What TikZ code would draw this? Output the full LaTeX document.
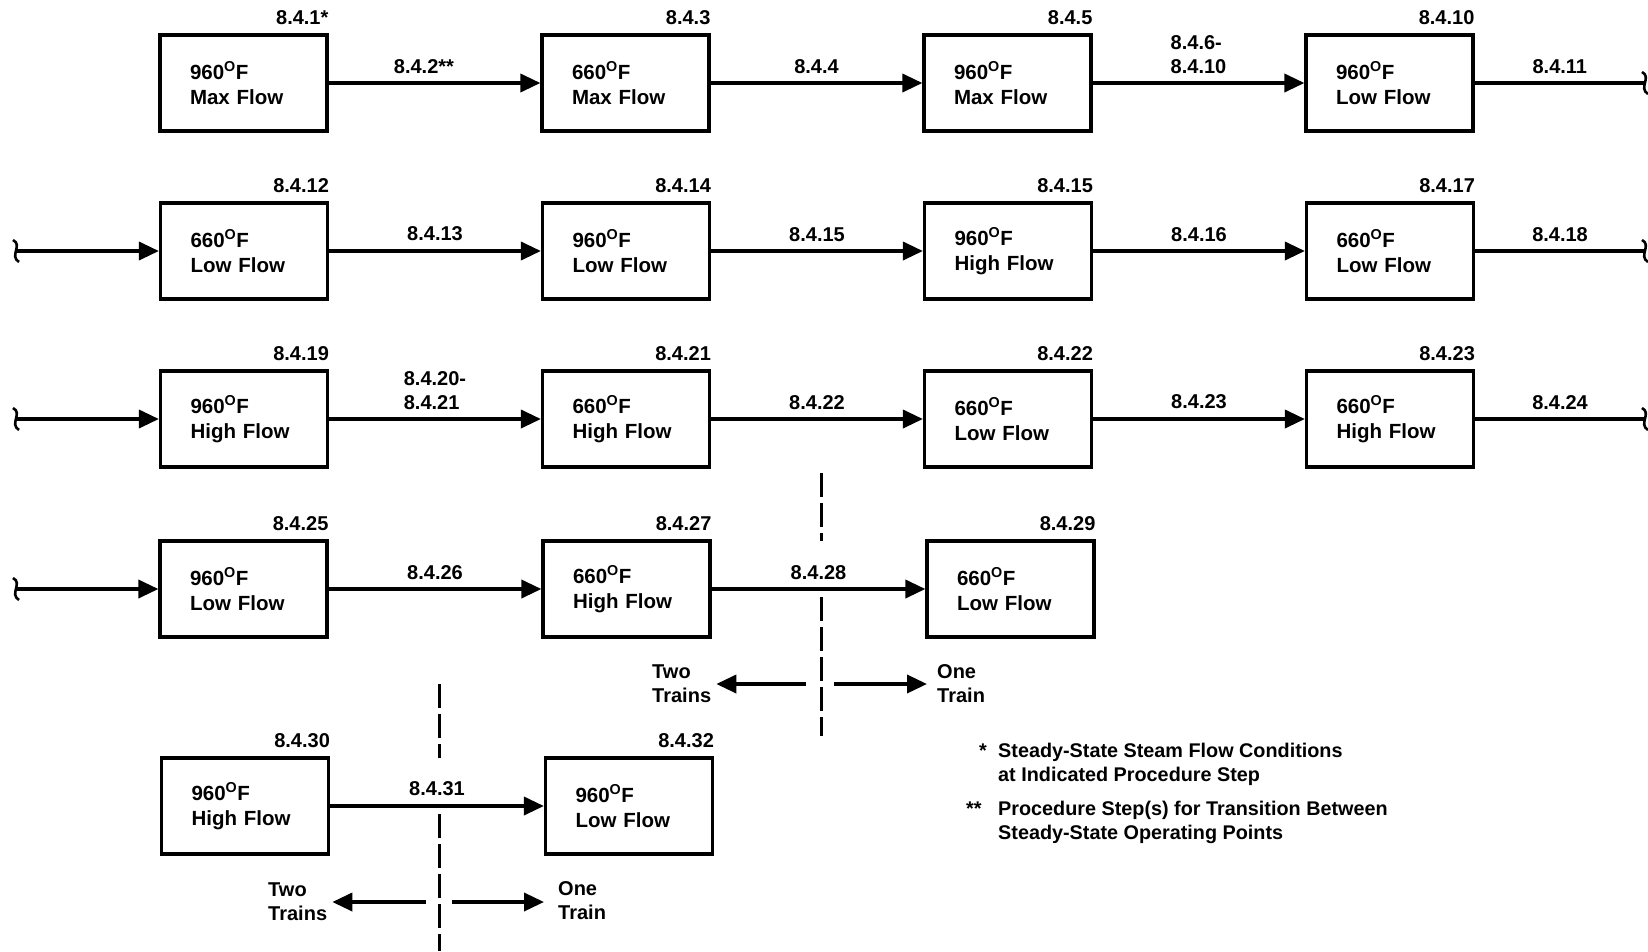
\documentclass[tikz,border=0pt]{standalone}
\usepackage{fontspec}
\setmainfont{Liberation Sans}
\usetikzlibrary{arrows.meta,calc}
\newcommand{\dg}{\textsuperscript{O}}
\newcommand{\bxf}{\fontsize{20.5}{25}\selectfont\bfseries}
\newcommand{\lbf}{\fontsize{20}{24}\selectfont\bfseries}
\newcommand{\lgf}{\fontsize{19.8}{24}\selectfont\bfseries}
\begin{document}
\begin{tikzpicture}[x=1pt,y=-1pt,
  box/.style={draw,line width=3.2pt,minimum width=167pt,minimum height=96pt,inner xsep=30pt,inner ysep=0pt,text width=107pt,align=left,font=\bxf},
  flow/.style={line width=3.6pt,-{Triangle[length=20pt,width=18pt]}},
  plainline/.style={line width=3.6pt},
  lbl/.style={inner sep=0pt,font=\lbf},
  leg/.style={inner sep=0pt,font=\lgf,anchor=base west},
  steplbl/.style={lbl,anchor=base east},
  arrlbl/.style={lbl,above=8pt,align=left},
  cut/.style={line width=3pt,dash pattern=on 24pt off 6pt},
  brk/.style={line width=2.6pt},
  brkmark/.pic={\draw[brk] (-3,-11) .. controls (7,-6) and (-7,5) .. (3,11);},
]
\useasboundingbox (0,0) rectangle (1648,951);

% ---------- Row 1
\node[box] (b11) at (243.5,83) {960\dg F\\Max Flow};
\node[box] (b12) at (625.5,83) {660\dg F\\Max Flow};
\node[box] (b13) at (1007.5,83) {960\dg F\\Max Flow};
\node[box] (b14) at (1389.5,83) {960\dg F\\Low Flow};
\node[steplbl] (s11) at ($(b11.north east)+(0,-9)$) {8.4.1*};
\node[steplbl] (s12) at ($(b12.north east)+(0,-9)$) {8.4.3};
\node[steplbl] (s13) at ($(b13.north east)+(0,-9)$) {8.4.5};
\node[steplbl] (s14) at ($(b14.north east)+(0,-9)$) {8.4.10};
\coordinate (e1) at (1645,83);
\draw[flow] (b11) -- node[arrlbl,pos=.45] (l11) {8.4.2**} (b12);
\draw[flow] (b12) -- node[arrlbl] (l12) {8.4.4} (b13);
\draw[flow] (b13) -- node[arrlbl] (l13) {8.4.6-\\8.4.10} (b14);
\draw[plainline] (b14) -- node[arrlbl] (l14) {8.4.11} (e1);
\pic at (e1) {brkmark};

% ---------- Row 2
\node[box] (b21) at (244,251) {660\dg F\\Low Flow};
\node[box] (b22) at (626,251) {960\dg F\\Low Flow};
\node[box] (b23) at (1008,251) {960\dg F\\High Flow};
\node[box] (b24) at (1390,251) {660\dg F\\Low Flow};
\node[steplbl] (s21) at ($(b21.north east)+(0,-9)$) {8.4.12};
\node[steplbl] (s22) at ($(b22.north east)+(0,-9)$) {8.4.14};
\node[steplbl] (s23) at ($(b23.north east)+(0,-9)$) {8.4.15};
\node[steplbl] (s24) at ($(b24.north east)+(0,-9)$) {8.4.17};
\coordinate (w2) at (16,251);
\coordinate (e2) at (1645,251);
\draw[flow] (w2) -- (b21);
\pic at (w2) {brkmark};
\draw[flow] (b21) -- node[arrlbl] (l21) {8.4.13} (b22);
\draw[flow] (b22) -- node[arrlbl] (l22) {8.4.15} (b23);
\draw[flow] (b23) -- node[arrlbl] (l23) {8.4.16} (b24);
\draw[plainline] (b24) -- node[arrlbl] (l24) {8.4.18} (e2);
\pic at (e2) {brkmark};

% ---------- Row 3
\node[box] (b31) at (244,419) {960\dg F\\High Flow};
\node[box] (b32) at (626,419) {660\dg F\\High Flow};
\node[box] (b33) at (1008,419) {660\dg F\\Low Flow};
\node[box] (b34) at (1390,419) {660\dg F\\High Flow};
\node[steplbl] (s31) at ($(b31.north east)+(0,-9)$) {8.4.19};
\node[steplbl] (s32) at ($(b32.north east)+(0,-9)$) {8.4.21};
\node[steplbl] (s33) at ($(b33.north east)+(0,-9)$) {8.4.22};
\node[steplbl] (s34) at ($(b34.north east)+(0,-9)$) {8.4.23};
\coordinate (w3) at (16,419);
\coordinate (e3) at (1645,419);
\draw[flow] (w3) -- (b31);
\pic at (w3) {brkmark};
\draw[flow] (b31) -- node[arrlbl] (l31) {8.4.20-\\8.4.21} (b32);
\draw[flow] (b32) -- node[arrlbl] (l32) {8.4.22} (b33);
\draw[flow] (b33) -- node[arrlbl] (l33) {8.4.23} (b34);
\draw[plainline] (b34) -- node[arrlbl] (l34) {8.4.24} (e3);
\pic at (e3) {brkmark};

% ---------- Row 4
\node[box] (b41) at (243.5,589) {960\dg F\\Low Flow};
\node[box] (b42) at (626.5,589) {660\dg F\\High Flow};
\node[box] (b43) at (1010.5,589) {660\dg F\\Low Flow};
\node[steplbl] (s41) at ($(b41.north east)+(0,-9)$) {8.4.25};
\node[steplbl] (s42) at ($(b42.north east)+(0,-9)$) {8.4.27};
\node[steplbl] (s43) at ($(b43.north east)+(0,-9)$) {8.4.29};
\coordinate (w4) at (16,589);
\draw[flow] (w4) -- (b41);
\pic at (w4) {brkmark};
\draw[flow] (b41) -- node[arrlbl] (l41) {8.4.26} (b42);
\draw[flow] (b42) -- node[arrlbl] (l42) {8.4.28} (b43);

% divider 1
\coordinate (d1a) at (821,473);
\coordinate (d1b) at (821,541);
\coordinate (d1c) at (821,597);
\coordinate (d1d) at (821,736);
\draw[cut] (d1a) -- (d1b);
\draw[cut] (d1c) -- (d1d);
\node[lbl,anchor=west,align=left] (two4) at (652,684) {Two\\Trains};
\node[lbl,anchor=west,align=left] (one4) at (937,684) {One\\Train};
\coordinate (t4l) at (806,684);
\coordinate (t4r) at (834,684);
\coordinate (t4rt) at (927,684);
\draw[flow] (t4l) -- ($(two4.east)+(5,0)$);
\draw[flow] (t4r) -- (t4rt);

% ---------- Row 5
\node[box] (b51) at (245,806) {960\dg F\\High Flow};
\node[box] (b52) at (629,806) {960\dg F\\Low Flow};
\node[steplbl] (s51) at ($(b51.north east)+(0,-9)$) {8.4.30};
\node[steplbl] (s52) at ($(b52.north east)+(0,-9)$) {8.4.32};
\draw[flow] (b51) -- node[arrlbl] (l51) {8.4.31} (b52);

% divider 2
\coordinate (d2a) at (439,684);
\coordinate (d2b) at (439,758);
\coordinate (d2c) at (439,814);
\coordinate (d2d) at (439,951);
\draw[cut] (d2a) -- (d2b);
\draw[cut] (d2c) -- (d2d);
\node[lbl,anchor=west,align=left] (two5) at (268,902) {Two\\Trains};
\node[lbl,anchor=west,align=left] (one5) at (558,901) {One\\Train};
\coordinate (t5l) at (426,902);
\coordinate (t5r) at (452,902);
\coordinate (t5rt) at (544,902);
\draw[flow] (t5l) -- ($(two5.east)+(5,0)$);
\draw[flow] (t5r) -- (t5rt);

% ---------- Legend
\node[leg] (st1) at (979,757) {*};
\node[leg] (lg1) at (998,757) {Steady-State Steam Flow Conditions};
\node[leg] (lg2) at (998,781) {at Indicated Procedure Step};
\node[leg] (st2) at (966,815) {**};
\node[leg] (lg3) at (998,815) {Procedure Step(s) for Transition Between};
\node[leg] (lg4) at (998,839) {Steady-State Operating Points};
\end{tikzpicture}
\end{document}
